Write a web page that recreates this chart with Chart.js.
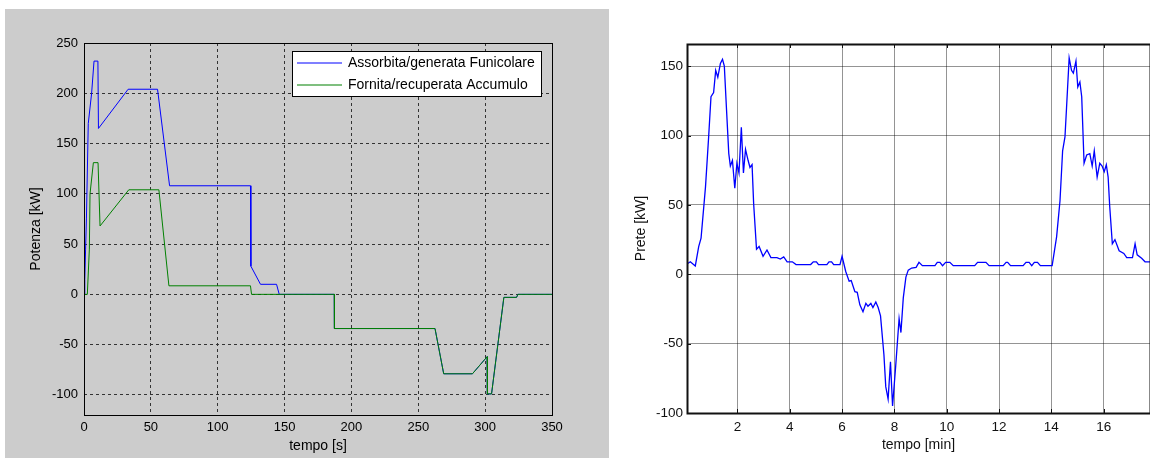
<!DOCTYPE html>
<html>
<head>
<meta charset="utf-8">
<script src="https://cdn.jsdelivr.net/npm/chart.js@4.4.1/dist/chart.umd.min.js"></script>
<style>
  html, body { margin: 0; padding: 0; background: #fff; }
  body { width: 1150px; height: 458px; position: relative; overflow: hidden; }
  #left-wrap { position: absolute; left: 5px; top: 9px; width: 604px; height: 449px; background: #cccccc; }
  #right-wrap { position: absolute; left: 610px; top: 0; width: 540px; height: 458px; }
  canvas { display: block; }
</style>
</head>
<body>
<div id="left-wrap"><canvas id="chart-left" width="604" height="449"></canvas></div>
<div id="right-wrap"><canvas id="chart-right" width="540" height="458"></canvas></div>
<script>
const FONT = "'Liberation Sans', Arial, sans-serif";
const BLUE = "#0000ff", GREEN = "#008000";
const LEFT_LABELS = ["Assorbita/generata Funicolare", "Fornita/recuperata Accumulo"];
const LEFT_COLORS = [BLUE, GREEN];

// grafico sinistro: potenza [kW] in funzione del tempo [s]
const FUN_T = [0, 0.6, 1.2, 1.8, 3.2, 5.7, 7.5, 10.4, 10.8, 33, 55, 64, 124.5, 124.8, 132, 144, 146, 187.2, 187.3, 262.5, 269, 290.5, 301.5, 301.7, 304.8, 314, 323.5, 324.5, 350];
const FUN_P = [0, 15, 45, 75, 170, 200, 232, 232, 165, 204, 204, 108, 108, 28, 10, 10, 0, 0, -34, -34, -79, -79, -62, -99, -99, -3, -3, 0, 0];
const ACC_T = [0, 2.5, 4, 4.5, 7, 10.5, 12, 33.5, 56, 63.5, 124.5, 125.3, 187.2, 187.3, 262.5, 269, 290.5, 301.5, 301.7, 304.8, 314, 323.5, 324.5, 350];
const ACC_P = [0, 0, 45, 100, 131, 131, 68, 104, 104, 8.5, 8.5, 0, 0, -34, -34, -79, -79, -62, -99, -99, -3, -3, 0, 0];
const S_TICKS = [0, 50, 100, 150, 200, 250, 300, 350];
const KW_TICKS = [-100, -50, 0, 50, 100, 150, 200, 250];

// grafico destro: Prete [kW] in funzione del tempo [min]
const PRETE_T = [0.07, 0.2, 0.39, 0.52, 0.61, 0.78, 0.9, 0.99, 1.09, 1.17, 1.25, 1.35, 1.43, 1.5, 1.58, 1.67, 1.73, 1.81, 1.9, 1.98,
  2.06, 2.15, 2.23, 2.31, 2.41, 2.48, 2.56, 2.62, 2.73, 2.83, 2.98, 3.13, 3.28, 3.51, 3.64, 3.77, 3.9, 4.1, 4.24, 4.8,
  4.9, 5.02, 5.1, 5.42, 5.5, 5.6, 5.68, 5.92, 6.0, 6.14, 6.27, 6.35, 6.49, 6.58, 6.68, 6.8, 6.91, 6.99, 7.1, 7.18,
  7.29, 7.38, 7.47, 7.6, 7.67, 7.76, 7.85, 7.93, 8.05, 8.18, 8.25, 8.34, 8.44, 8.53, 8.66, 8.83, 8.94, 9.07, 9.55, 9.64,
  9.74, 9.84, 9.96, 10.12, 10.25, 11.07, 11.18, 11.5, 11.62, 12.16, 12.27, 12.33, 12.44, 12.92, 13.03, 13.15, 13.25, 13.35, 13.47, 13.58,
  14.03, 14.2, 14.33, 14.43, 14.52, 14.58, 14.68, 14.77, 14.84, 14.94, 15.01, 15.09, 15.16, 15.25, 15.35, 15.47, 15.56, 15.64, 15.75, 15.85,
  15.94, 16.02, 16.1, 16.17, 16.23, 16.33, 16.43, 16.59, 16.77, 16.88, 17.1, 17.2, 17.28, 17.45, 17.58, 17.77];
const PRETE_P = [7.4, 9, 6, 20, 26, 63, 99, 128, 131, 147, 142, 152, 155, 150, 120, 87, 78, 82, 62, 80,
  73, 106, 73, 90, 82, 77, 79, 51, 18, 20, 13, 17.5, 12, 12, 11, 12.5, 9, 9, 7, 7,
  9, 9, 7, 7, 9, 9, 7, 7, 13, 2, -5, -4.5, -12.5, -13, -22, -27, -21, -23, -21, -24,
  -20, -24, -30, -58, -81, -90, -63, -95, -66, -32, -42, -17, -2, 3, 4.5, 5, 8.6, 6.2, 6.2, 8.6,
  8.6, 6.2, 8.6, 8.6, 6.2, 6.2, 8.6, 8.6, 6.2, 6.2, 8.6, 8.6, 6.2, 6.2, 8.6, 8.6, 6.2, 8.6, 8.6, 6.2,
  6.2, 27, 53, 89, 99, 120, 156, 147, 145, 153.7, 135, 138.6, 128, 80, 86, 87, 78, 89, 70, 80,
  78, 74, 79, 70, 49, 22, 25, 17, 15, 12, 12, 22, 14, 11.5, 9, 9];
const MIN_TICKS = [2, 4, 6, 8, 10, 12, 14, 16];
const PRETE_TICKS = [-100, -50, 0, 50, 100, 150];

const toXY = (ts, ps) => ts.map((t, i) => ({ x: t, y: ps[i] }));
const fixedTicks = (list) => (s) => { s.ticks = list.map((v) => ({ value: v })); };

// riquadro degli assi (stile MATLAB "box on")
const boxFrame = {
  id: "boxFrame",
  afterDatasetsDraw(chart, _a, o) {
    const { ctx, chartArea: a } = chart;
    ctx.save();
    ctx.strokeStyle = o.color;
    ctx.lineWidth = o.width;
    ctx.strokeRect(a.left + 0.5, a.top + 0.5, a.width, a.height);
    ctx.restore();
  },
};

// tacche verso l'interno
const innerTicks = {
  id: "innerTicks",
  afterDatasetsDraw(chart, _a, o) {
    const { ctx, chartArea: a, scales: { x, y } } = chart;
    ctx.save();
    ctx.strokeStyle = o.color;
    ctx.lineWidth = 1;
    ctx.beginPath();
    for (const t of x.ticks) {
      const px = Math.round(x.getPixelForValue(t.value)) + 0.5;
      ctx.moveTo(px, a.top); ctx.lineTo(px, a.top + o.len);
      ctx.moveTo(px, a.bottom); ctx.lineTo(px, a.bottom - o.len);
    }
    for (const t of y.ticks) {
      const py = Math.round(y.getPixelForValue(t.value)) + 0.5;
      ctx.moveTo(a.left, py); ctx.lineTo(a.left + o.len, py);
    }
    ctx.stroke();
    ctx.restore();
  },
};

// legenda dentro l'area del grafico, in alto a destra
const boxLegend = {
  id: "boxLegend",
  afterDraw(chart) {
    const { ctx, chartArea: a } = chart;
    const w = 249, h = 45, x0 = a.right - 11 - w, y0 = a.top + 8;
    ctx.save();
    ctx.fillStyle = "#fff";
    ctx.fillRect(x0, y0, w, h);
    ctx.strokeStyle = "#000";
    ctx.lineWidth = 1;
    ctx.strokeRect(x0 + 0.5, y0 + 0.5, w, h);
    ctx.font = `14px ${FONT}`;
    ctx.textBaseline = "middle";
    LEFT_LABELS.forEach((label, i) => {
      const yy = Math.round(y0 + 12 + i * 22);
      ctx.beginPath();
      ctx.strokeStyle = LEFT_COLORS[i];
      ctx.lineWidth = 1.2;
      ctx.moveTo(x0 + 5, yy);
      ctx.lineTo(x0 + 50, yy);
      ctx.stroke();
      ctx.fillStyle = "#000";
      ctx.fillText(label, x0 + 56, yy + 0.5);
    });
    ctx.restore();
  },
};

const tickFont = (size) => ({ family: FONT, size });

new Chart(document.getElementById("chart-left"), {
  type: "scatter",
  data: {
    datasets: [
      { label: LEFT_LABELS[0], data: toXY(FUN_T, FUN_P), borderColor: BLUE, showLine: true, order: 1 },
      { label: LEFT_LABELS[1], data: toXY(ACC_T, ACC_P), borderColor: GREEN, showLine: true, order: 0 },
    ],
  },
  options: {
    responsive: false,
    animation: false,
    layout: { padding: { top: 34, right: 57, left: 0, bottom: 0 } },
    elements: { point: { radius: 0 }, line: { borderWidth: 1, tension: 0 } },
    plugins: {
      legend: { display: false }, tooltip: { enabled: false },
      boxFrame: { color: "#000", width: 1 },
    },
    scales: {
      x: {
        type: "linear", min: 0, max: 350,
        afterBuildTicks: fixedTicks(S_TICKS),
        afterFit: (s) => { s.height = 43; },
        grid: { color: "#333", lineWidth: 1, drawTicks: false },
        border: { display: false, dash: [3, 3] },
        ticks: { color: "#000", font: tickFont(13), padding: 5, maxRotation: 0, autoSkip: false },
        title: { display: true, text: "tempo [s]", color: "#000", font: tickFont(14), padding: { top: 0, bottom: 3 } },
      },
      y: {
        type: "linear", min: -120, max: 250,
        afterBuildTicks: fixedTicks(KW_TICKS),
        afterFit: (s) => { s.width = 79; },
        grid: { color: "#333", lineWidth: 1, drawTicks: false },
        border: { display: false, dash: [3, 3] },
        ticks: { color: "#000", font: tickFont(13), padding: 6, autoSkip: false },
        title: { display: true, text: "Potenza [kW]", color: "#000", font: tickFont(14), padding: { top: 23, bottom: 0 } },
      },
    },
  },
  plugins: [boxFrame, boxLegend],
});

new Chart(document.getElementById("chart-right"), {
  type: "scatter",
  data: {
    datasets: [
      { label: "Prete", data: toXY(PRETE_T, PRETE_P), borderColor: BLUE, showLine: true },
    ],
  },
  options: {
    responsive: false,
    animation: false,
    layout: { padding: { top: 44, right: 0, left: 0, bottom: 0 } },
    elements: { point: { radius: 0 }, line: { borderWidth: 1.3, tension: 0 } },
    plugins: {
      legend: { display: false }, tooltip: { enabled: false },
      boxFrame: { color: "#111", width: 2 },
      innerTicks: { color: "#111", len: 4 },
    },
    scales: {
      x: {
        type: "linear", min: 0.073, max: 17.77,
        afterBuildTicks: fixedTicks(MIN_TICKS),
        afterFit: (s) => { s.height = 45; },
        grid: { color: "rgba(0,0,0,0.42)", lineWidth: 1, drawTicks: false },
        border: { display: false },
        ticks: { color: "#111", font: tickFont(13.5), padding: 6, maxRotation: 0, autoSkip: false },
        title: { display: true, text: "tempo [min]", color: "#111", font: tickFont(14), padding: { top: 0, bottom: 4 } },
      },
      y: {
        type: "linear", min: -100, max: 166,
        afterBuildTicks: fixedTicks(PRETE_TICKS),
        afterFit: (s) => { s.width = 77; },
        grid: { color: "rgba(0,0,0,0.42)", lineWidth: 1, drawTicks: false },
        border: { display: false },
        ticks: { color: "#111", font: tickFont(13.5), padding: 4, autoSkip: false },
        title: { display: true, text: "Prete [kW]", color: "#111", font: tickFont(14), padding: { top: 23, bottom: 0 } },
      },
    },
  },
  plugins: [boxFrame, innerTicks],
});
</script>
</body>
</html>
